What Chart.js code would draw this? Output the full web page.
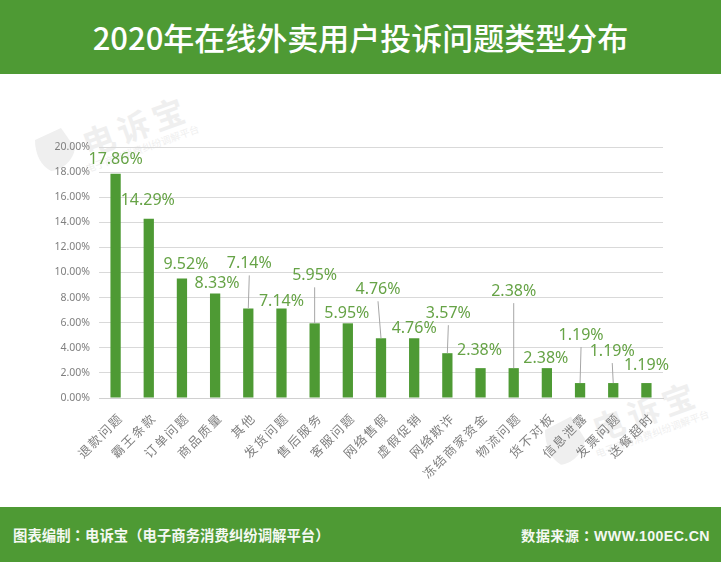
<!DOCTYPE html>
<html>
<head>
<meta charset="utf-8">
<script src="https://cdn.jsdelivr.net/npm/chart.js@4/dist/chart.umd.min.js"></script>
<style>
  html, body { margin: 0; padding: 0; background: #fff; }
  body { width: 721px; height: 562px; position: relative; overflow: hidden; font-family: "Noto Sans CJK SC", sans-serif; }
  .band { position: absolute; left: 0; width: 721px; background: #4e9a34; color: #fff; }
  #header { top: 0; height: 74px; }
  #header div { position: absolute; left: 0; width: 721px; top: 13px; line-height: 48px; text-align: center; font-size: 31px; font-weight: 500; }
  #footer { top: 507px; height: 55px; font-weight: 700; }
  #footer span { position: absolute; top: 17px; line-height: 22px; color: #f4f8f2; font-family: "Liberation Sans", "Noto Sans CJK SC", sans-serif; white-space: nowrap; }
  #footer em { font-style: normal; font-family: "Noto Sans CJK TC"; }
  #chartBox { position: absolute; left: 0; top: 0; }
  .mark { position: absolute; color: #efefef; transform: rotate(-20deg); transform-origin: 16px 19px; white-space: nowrap; }
  .mark b { display: block; font-size: 32px; line-height: 38px; letter-spacing: 5px; }
  .mark i { display: block; font-style: normal; font-size: 10px; line-height: 12px; margin-left: -6px; }
  .shield { position: absolute; }
</style>
</head>
<body>
<svg class="shield" style="left:31px;top:124px" width="50" height="50" viewBox="0 0 50 50"><path d="M4 16 L30 4 L44 24 C42 38 30 46 20 47 C10 42 4 30 4 16 Z" fill="#efefef"/></svg>
<div class="mark" style="left:82px;top:119px"><b>电诉宝</b><i>电子商务消费纠纷调解平台</i></div>
<svg class="shield" style="left:541px;top:412px" width="50" height="56" viewBox="0 0 50 50" preserveAspectRatio="none"><path d="M4 16 L30 4 L44 24 C42 38 30 46 20 47 C10 42 4 30 4 16 Z" fill="#efefef"/></svg>
<div class="mark" style="left:592px;top:404px"><b>电诉宝</b><i>电子商务消费纠纷调解平台</i></div>

<div id="chartBox"><canvas id="myChart" width="721" height="562"></canvas></div>

<div class="band" id="header"><div>2020年在线外卖用户投诉问题类型分布</div></div>
<div class="band" id="footer">
  <span style="left:13px;font-size:14.4px">图表编制<em>：</em>电诉宝（电子商务消费纠纷调解平台）</span>
  <span style="right:11px;font-size:14.2px;letter-spacing:.4px">数据来源<em>：</em>WWW.100EC.CN</span>
</div>

<script>
const categories = ['退款问题', '霸王条款', '订单问题', '商品质量', '其他', '发货问题', '售后服务', '客服问题', '网络售假', '虚假促销', '网络欺诈', '冻结商家资金', '物流问题', '货不对板', '信息泄露', '发票问题', '送餐超时'];
const values = [17.86, 14.29, 9.52, 8.33, 7.14, 7.14, 5.95, 5.95, 4.76, 4.76, 3.57, 2.38, 2.38, 2.38, 1.19, 1.19, 1.19];
const yTicks = [0, 2, 4, 6, 8, 10, 12, 14, 16, 18, 20];

// where the labels sit relative to the top of their bar (hand placed in the original)
const labelDx = [0, -1, 4, 2, 1, 0, 0, -1, -3, 0, 1, -1, 0, -1, 1, -1, 0];
const labelDy = [-15, -19, -15, -11, -46, -8, -49, -11, -50, -11, -41, -19, -78, -11, -49, -33, -19];
const leaderBars = [4, 6, 8, 10, 12, 14, 15];

const green = '#4e9a34';

// value labels + the thin grey leader lines
const barLabels = {
  id: 'barLabels',
  afterDatasetsDraw(chart) {
    const ctx = chart.ctx;
    const bars = chart.getDatasetMeta(0).data;
    ctx.save();
    ctx.strokeStyle = '#a6a6a6';
    ctx.lineWidth = 1;
    leaderBars.forEach(i => {
      ctx.beginPath();
      ctx.moveTo(bars[i].x + labelDx[i], bars[i].y + labelDy[i] + 13);
      ctx.lineTo(bars[i].x, bars[i].y);
      ctx.stroke();
    });
    ctx.fillStyle = '#66a346';
    ctx.font = '16px "Noto Sans", sans-serif';
    ctx.textAlign = 'center';
    ctx.textBaseline = 'middle';
    bars.forEach((bar, i) => {
      ctx.fillText(values[i].toFixed(2) + '%', bar.x + labelDx[i], bar.y + labelDy[i] + 1);
    });
    ctx.restore();
  }
};

// the category labels are spaced out in the original, chart.js has no option for it
const spacedLabels = {
  id: 'spacedLabels',
  beforeDraw(chart) {
    const xScale = chart.scales.x;
    if (xScale.spaced) return;
    const drawLabels = xScale.drawLabels;
    xScale.drawLabels = function (area) {
      chart.ctx.save();
      chart.ctx.letterSpacing = '1.8px';
      drawLabels.call(this, area);
      chart.ctx.restore();
    };
    xScale.spaced = true;
  }
};

const ctx = document.getElementById('myChart').getContext('2d');

const myChart = new Chart(ctx, {
  type: 'bar',
  data: {
    labels: categories,
    datasets: [{
      data: values,
      backgroundColor: green,
      barPercentage: 0.31,
      categoryPercentage: 1,
    }],
  },
  options: {
    responsive: false,
    animation: false,
    devicePixelRatio: 1,
    layout: { padding: { top: 147, right: 58, left: 0, bottom: 0 } },
    plugins: { legend: { display: false }, tooltip: { enabled: false } },
    scales: {
      x: {
        grid: { display: false },
        border: { color: '#d0d0d0' },
        afterFit(scale) { scale.height = 164; },
        ticks: {
          autoSkip: false,
          minRotation: 45,
          maxRotation: 45,
          padding: 4,
          labelOffset: 5,
          color: '#7f7f7f',
          font: { family: '"Noto Sans CJK SC"', size: 12.5 },
        },
      },
      y: {
        min: 0,
        max: 20,
        afterFit(scale) { scale.width = 99; },
        afterBuildTicks(scale) { scale.ticks = yTicks.map(v => ({ value: v })); },
        grid: { color: '#d9d9d9', drawTicks: false },
        border: { display: false },
        ticks: {
          padding: 9,
          color: '#7f7f7f',
          font: { family: '"Noto Sans"', size: 10.5 },
          callback: v => v.toFixed(2) + '%',
        },
      },
    },
  },
  plugins: [barLabels, spacedLabels],
});
</script>
</body>
</html>
